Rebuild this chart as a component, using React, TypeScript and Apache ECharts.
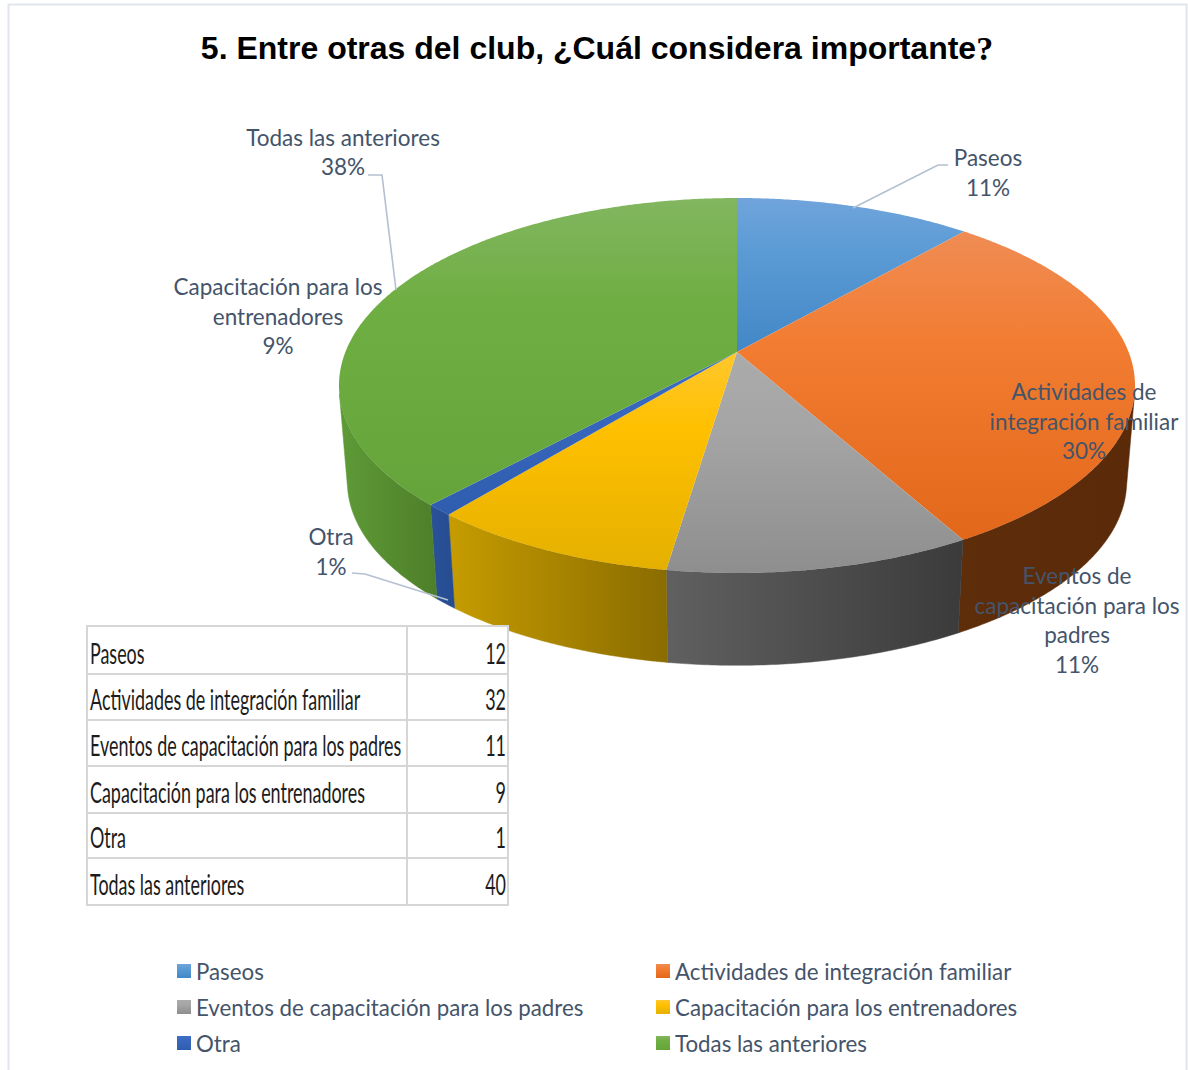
import React, { useEffect, useRef } from "react";
import * as echarts from "echarts";

const categories = [
  "Paseos",
  "Actividades de integración familiar",
  "Eventos de capacitación para los padres",
  "Capacitación para los entrenadores",
  "Otra",
  "Todas las anteriores",
];
const values = [12, 32, 11, 9, 1, 40];
const percentLabels = ["11%", "30%", "11%", "9%", "1%", "38%"];
const labelLines = [
  ["Paseos"],
  ["Actividades de", "integración familiar"],
  ["Eventos de", "capacitación para los", "padres"],
  ["Capacitación para los", "entrenadores"],
  ["Otra"],
  ["Todas las anteriores"],
];
const labelAnchors = [
  [988, 143],
  [1084, 377],
  [1077, 561],
  [278, 272],
  [331, 522],
  [343, 122.5],
];
const leaders = [
  [[948, 165], [938, 165], [853, 208]],
  null,
  null,
  null,
  [[352, 573], [365, 574], [448, 600]],
  [[368, 175], [382, 175], [396, 290]],
];
const topColors = [
  ["#70A4DB", "#5B9BD5", "#4287C6"],
  ["#EF8C54", "#F27D32", "#E2671A"],
  ["#ABABAB", "#A5A5A5", "#8E8E8E"],
  ["#FFC72E", "#FFC000", "#E4B000"],
  ["#3F6FC4", "#3767BD", "#2F5DAF"],
  ["#82B660", "#6FAE42", "#64A43A"],
];
const sideColors = [
  ["#3F72A0", "#3A6A96"],
  ["#5E2E0B", "#5A2A09"],
  ["#606060", "#3B3B3B"],
  ["#C69C00", "#8A6C00"],
  ["#2A5299", "#264C90"],
  ["#5E9B37", "#4E7E2A"],
];
const legendLeft = ["Paseos", "Eventos de capacitación para los padres", "Otra"];
const legendRight = ["Actividades de integración familiar", "Capacitación para los entrenadores", "Todas las anteriores"];

const TOTAL = values.reduce((a, b) => a + b, 0);
const CX = 737, CY = 352, K = 0.1786, W = 391.6, H = 181.5;
const BOTTOM_Y = 449, BOTTOM_S = 0.979;
const SIDE_FROM = 102.8, SIDE_TO = 257.2;

function project(deg: number, bottom: boolean): number[] {
  const t = (deg * Math.PI) / 180;
  const u = Math.sin(t), v = -Math.cos(t);
  const d = 1 - K * v;
  const x = (W * u) / d, y = (H * v) / d;
  return bottom ? [CX + BOTTOM_S * x, BOTTOM_Y + BOTTOM_S * y] : [CX + x, CY + y];
}
function sliceAngles(i: number): number[] {
  let before = 0;
  for (let j = 0; j < i; j++) before += values[j];
  return [(before / TOTAL) * 360, ((before + values[i]) / TOTAL) * 360];
}
function arc(a: number, b: number, bottom: boolean): number[][] {
  const n = Math.max(2, Math.ceil(b - a) * 2);
  const pts: number[][] = [];
  for (let s = 0; s <= n; s++) pts.push(project(a + ((b - a) * s) / n, bottom));
  return pts;
}
function vGrad(c: string[]) {
  return new echarts.graphic.LinearGradient(0, 0, 0, 1, [
    { offset: 0, color: c[0] },
    { offset: 0.35, color: c[1] },
    { offset: 1, color: c[2] },
  ]);
}
function hGrad(c: string[]) {
  return new echarts.graphic.LinearGradient(0, 0, 1, 0, [
    { offset: 0, color: c[0] },
    { offset: 1, color: c[1] },
  ]);
}

const LABEL_FONT = "Lato";
const LABEL_COLOR = "#44546A";

function tableGraphics(): any[] {
  const rows = [626, 674, 720, 766, 813, 858, 905];
  const xs = [87, 407, 508];
  const out: any[] = [
    { type: "rect", z: 20, shape: { x: xs[0], y: rows[0], width: xs[2] - xs[0], height: rows[6] - rows[0] }, style: { fill: "#fff", stroke: "#D6D6D6", lineWidth: 2 } },
    { type: "line", z: 21, shape: { x1: xs[1], y1: rows[0], x2: xs[1], y2: rows[6] }, style: { stroke: "#D6D6D6", lineWidth: 2 } },
  ];
  categories.forEach((c, i) => {
    if (i > 0) out.push({ type: "line", z: 21, shape: { x1: xs[0], y1: rows[i], x2: xs[2], y2: rows[i] }, style: { stroke: "#D6D6D6", lineWidth: 2 } });
    const cy = rows[i + 1] - 20.5;
    out.push({ type: "text", z: 22, x: xs[0] + 3, y: cy, scaleX: 0.64, style: { text: c, fill: "#1c1c1c", font: `400 28px ${LABEL_FONT}`, textAlign: "left", textVerticalAlign: "middle" } });
    out.push({ type: "text", z: 22, x: xs[2] - 2, y: cy, scaleX: 0.64, style: { text: String(values[i]), fill: "#1c1c1c", font: `400 28px ${LABEL_FONT}`, textAlign: "right", textVerticalAlign: "middle" } });
  });
  return out;
}

function labelGraphics(): any[] {
  const out: any[] = [];
  categories.forEach((_, i) => {
    out.push({
      type: "text", z: 30, x: labelAnchors[i][0], y: labelAnchors[i][1],
      style: { text: [...labelLines[i], percentLabels[i]].join("\n"), fill: LABEL_COLOR, font: `400 22.5px ${LABEL_FONT}`, lineHeight: 29.5, textAlign: "center", textVerticalAlign: "top" },
    });
    const l = leaders[i];
    if (l) out.push({ type: "polyline", z: 19, shape: { points: l }, style: { stroke: "#B4C0D0", lineWidth: 1.6, fill: "none" } });
  });
  return out;
}

export default function App() {
  const ref = useRef<HTMLDivElement>(null);
  useEffect(() => {
    const chart = echarts.init(ref.current!, undefined, { renderer: "svg" });
    const topSeries: any[] = categories.map((name, i) => ({
      type: "custom",
      name,
      coordinateSystem: "none",
      z: 3,
      silent: true,
      itemStyle: { color: vGrad(topColors[i]) },
      data: [[values[i]]],
      renderItem: () => {
        const [a, b] = sliceAngles(i);
        return {
          type: "polygon",
          shape: { points: [[CX, CY], ...arc(a, b, false)] },
          style: { fill: vGrad(topColors[i]) },
        };
      },
    }));
    const sideSeries = {
      type: "custom",
      name: "lados",
      coordinateSystem: "none",
      z: 2,
      silent: true,
      data: values.map((v) => [v]),
      renderItem: (params: any) => {
        const i = params.dataIndex;
        const [a0, b0] = sliceAngles(i);
        const a = Math.max(a0, SIDE_FROM), b = Math.min(b0, SIDE_TO);
        if (b <= a) return { type: "group", children: [] };
        return {
          type: "polygon",
          shape: { points: [...arc(a, b, false), ...arc(a, b, true).reverse()] },
          style: { fill: hGrad(sideColors[i]), stroke: hGrad(sideColors[i]), lineWidth: 0.5 },
        };
      },
    };
    const legendBase = {
      orient: "vertical" as const,
      icon: "rect",
      itemWidth: 14,
      itemHeight: 14,
      itemGap: 14,
      top: 955,
      selectedMode: false,
      textStyle: { color: LABEL_COLOR, fontFamily: LABEL_FONT, fontSize: 22.3, lineHeight: 20 },
    };
    chart.setOption({
      animation: false,
      backgroundColor: "#ffffff",
      title: {
        left: 592,
        top: 26,
        textAlign: "center",
        text: "{a|5. Entre otras del club, ¿Cuál considera importante}{b|?}",
        textStyle: {
          rich: {
            a: { fontFamily: "Liberation Sans", fontWeight: "bold", fontSize: 32, color: "#000" },
            b: { fontFamily: "Liberation Serif", fontWeight: "bold", fontSize: 34, color: "#000" },
          },
        },
      },
      legend: [
        { ...legendBase, left: 172, data: legendLeft },
        { ...legendBase, left: 651, data: legendRight },
      ],
      graphic: [
        { type: "rect", z: 0, shape: { x: 8.5, y: 4.5, width: 1178, height: 1090 }, style: { fill: "none", stroke: "#E1E6EC", lineWidth: 2 } },
        ...tableGraphics(),
        ...labelGraphics(),
      ],
      series: [sideSeries, ...topSeries],
    });
    return () => chart.dispose();
  }, []);
  return <div ref={ref} style={{ position: "absolute", left: 0, top: 0, width: 1188, height: 1070 }} />;
}
